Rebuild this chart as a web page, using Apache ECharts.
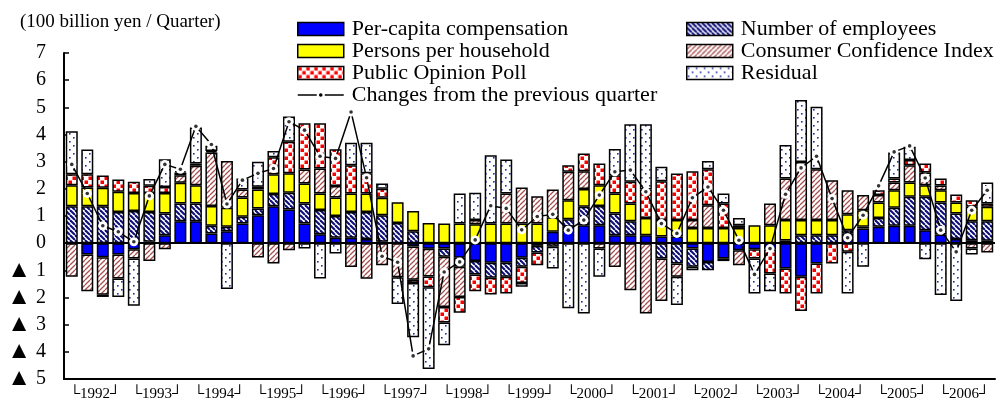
<!DOCTYPE html>
<html><head><meta charset="utf-8">
<script src="https://cdn.jsdelivr.net/npm/echarts@6/dist/echarts.min.js"></script>
<style>html,body{margin:0;padding:0;background:#fff}#c{width:999px;height:403px}</style>
</head><body><div id="c"></div>
<script>
// ---- Data (100 billion yen / quarter), 1992Q1 .. 2006Q4 ----
const years = ['1992','1993','1994','1995','1996','1997','1998','1999','2000','2001','2002','2003','2004','2005','2006'];
const quarters = ['Q1','Q2','Q3','Q4'];
const categories = [];
years.forEach(y => quarters.forEach(q => categories.push(y + q)));

const perCapita = [0,-0.42,-0.52,-0.42,-0.22,0.05,0.29,0.81,0.81,0.36,0.44,0.72,
  1.03,1.36,1.24,0.72,0.33,0.2,0.2,0.15,0.05,0,-0.12,-0.21,
  -0.2,-0.54,-0.66,-0.72,-0.72,-0.54,-0.1,0.42,0.6,0.66,0.66,0.29,
  0.29,0.29,0.25,0.25,-0.2,-0.69,-0.56,-0.26,-0.22,-0.22,-0.93,-1.24,
  -0.75,0,0.35,0.54,0.6,0.64,0.64,0.48,0.32,0.15,0.11,0.09];
const employees = [1.36,1.36,1.36,1.15,1.18,1.1,0.8,0.65,0.65,0.28,0.16,0.25,
  0.25,0.45,0.62,0.74,0.89,0.8,0.95,1.0,0.98,0.74,0.44,0,
  -0.3,-0.33,-0.49,-0.55,-0.52,-0.33,-0.24,-0.13,0.28,0.68,0.71,0.8,
  0.52,0,-0.56,-0.75,-0.67,-0.31,-0.1,0,0,0,0.1,0.29,
  0.29,0.29,0.13,0.06,0.33,0.66,1.07,1.23,1.18,0.94,0.7,0.72];
const household = [0.77,0.69,0.68,0.74,0.67,0.7,0.76,0.76,0.67,0.73,0.7,0.71,
  0.7,0.73,0.71,0.74,0.61,0.68,0.68,0.68,0.64,0.77,0.74,0.74,
  0.72,0.72,0.7,0.72,0.72,0.72,0.72,0.53,0.7,0.65,0.76,0.74,
  0.65,0.64,0.6,0.6,0.56,0.56,0.56,0.56,0.66,0.66,0.75,0.56,
  0.56,0.56,0.58,0.61,0.57,0.65,0.52,0.42,0.45,0.41,0.53,0.53];
const confidence = [-1.24,-1.35,-1.38,-0.88,-0.34,-0.66,-0.22,0.28,0.72,1.97,1.72,0.3,
  -0.53,-0.75,-0.26,0.51,0.92,0.42,-0.88,-1.31,-0.81,-1.25,-1.23,-1.02,
  -1.85,-1.11,0.15,0,1.11,1.33,1.01,1.03,1.05,0.66,-0.2,-0.88,
  -1.73,-2.59,-1.57,-0.49,0.29,0.84,0,-0.55,0,0.8,1.53,2.14,
  1.87,1.47,0.89,0.56,0.27,0.28,0.64,0.47,0.17,0,-0.2,-0.34];
const opinionPoll = [0.41,0.49,0.45,0.45,0.41,0.26,0.22,0.1,0.08,0.05,0,0,
  0.1,0.62,1.16,1.7,1.66,1.36,1.04,0.74,0.33,0,-0.12,-0.39,
  -0.57,-0.58,-0.62,-0.62,-0.61,-0.6,-0.47,0,0.24,0.65,0.8,0.67,
  0.8,1.05,1.43,1.71,1.8,1.32,0.9,0.1,-0.34,-0.9,-0.92,-1.26,
  -1.1,-0.75,-0.32,0,0.18,0.15,0.19,0.33,0.26,0.29,0.24,0.12];
const residual = [1.58,0.91,-0.08,-0.68,-1.74,0.25,1.02,0.05,1.33,0.2,-1.69,0.4,
  0.92,0.23,0.93,-0.2,-1.3,-0.38,0.83,1.13,0.2,-0.99,-1.99,-3.01,
  -0.84,1.11,1.01,2.52,1.25,-0.13,0,-0.8,-2.4,-2.59,-1.04,0.97,
  2.12,2.4,0.53,-1.04,-0.13,0.3,0.37,0.27,-1.29,-0.65,1.23,2.28,
  2.3,0,-1.53,-0.87,0,0.96,0.49,-0.59,-1.91,-2.13,-0.22,0.77];
const change = [2.9,1.83,0.64,0.42,0.05,1.74,2.9,2.72,4.3,3.63,1.44,2.32,
  2.57,2.75,4.47,4.16,3.2,3.12,4.83,2.41,-0.48,-0.7,-4.15,-3.89,
  -1.06,-0.69,0.12,1.38,1.28,0.49,0.98,1.06,0.48,0.85,1.77,2.63,
  2.69,1.89,0.72,0.36,1.67,2.07,1.21,0.11,-1.15,-0.2,1.8,2.77,
  3.2,1.64,0.2,1.03,2.11,3.36,3.58,2.4,0.48,-0.32,1.21,1.95];
const yTicks = {min: -5, max: 7, step: 1};

// ---- Patterns ----
function stripeTile(color, dir, s, lw) {
  const c = document.createElement('canvas'); c.width = s; c.height = s;
  const g = c.getContext('2d'); g.fillStyle = '#fff'; g.fillRect(0, 0, s, s);
  g.strokeStyle = color; g.lineWidth = lw;
  for (let k = -1; k <= 1; k++) {
    g.beginPath();
    if (dir === 'back') { g.moveTo(k * s, 0); g.lineTo(k * s + s, s); }
    else { g.moveTo(k * s, s); g.lineTo(k * s + s, 0); }
    g.stroke();
  }
  return c;
}
function dotTile(color, s, d, pts) {
  const c = document.createElement('canvas'); c.width = s; c.height = s;
  const g = c.getContext('2d'); g.fillStyle = '#fff'; g.fillRect(0, 0, s, s);
  g.fillStyle = color;
  pts.forEach(p => g.fillRect(p[0], p[1], d, d));
  return c;
}
const pat = img => ({image: img, repeat: 'repeat'});
const navyPat = pat(stripeTile('#10107a', 'back', 5, 2.1));
const brownPat = pat(stripeTile('#a85050', 'fwd', 5, 1.3));
const redPat = pat(dotTile('#ff0000', 8, 3.5, [[0.5, 0.5], [4.5, 4.5]]));
const resPat = pat(dotTile('#2030a0', 8, 1.6, [[1, 1], [5, 5]]));

const FONT = "'Liberation Serif','Times New Roman',serif";
const nz = arr => arr.map(v => (v === 0 ? '-' : v));
const border = {borderColor: '#000', borderWidth: 1.5};

function barSeries(name, data, color, extra) {
  return Object.assign({
    name, type: 'bar', stack: 'total', data: nz(data), barWidth: 12,
    itemStyle: Object.assign({color}, border), z: 2
  }, extra || {});
}

const lineIcon = 'path://M0 0h0.05v0.05h-0.05Z M0 12.95h0.05v0.05h-0.05Z M0 5.75H19V7.25H0Z M27 5.75H46V7.25H27Z M21.2 6.5a1.8 1.8 0 1 0 3.6 0a1.8 1.8 0 1 0 -3.6 0Z';

const legendBase = {
  orient: 'vertical', top: 18, itemWidth: 46, itemHeight: 13, itemGap: 0, padding: 0,
  icon: 'rect', selectedMode: false,
  textStyle: {fontSize: 22, fontFamily: FONT, color: '#000', lineHeight: 20.5, padding: [0, 0, 0, 3]},
  itemStyle: {borderColor: '#000', borderWidth: 1.5}
};

const chart = echarts.init(document.getElementById('c'), null, {renderer: 'canvas'});
chart.setOption({
  animation: false,
  backgroundColor: '#fff',
  title: {text: '(100 billion yen / Quarter)', left: 20, top: 13, padding: 0,
    textStyle: {fontSize: 19, fontWeight: 'normal', fontFamily: FONT, color: '#000'}},
  legend: [
    Object.assign({}, legendBase, {left: 297, data: [
      'Per-capita compensation', 'Persons per household', 'Public Opinion Poll',
      {name: 'Changes from the previous quarter', icon: lineIcon, itemStyle: {color: '#000', borderWidth: 0}}
    ]}),
    Object.assign({}, legendBase, {left: 686, data: ['Number of employees', 'Consumer Confidence Index', 'Residual']})
  ],
  grid: {left: 64, right: 4, top: 53, bottom: 24, containLabel: false},
  xAxis: [
    {type: 'category', data: categories, boundaryGap: true,
      axisLine: {onZero: false, lineStyle: {color: '#000', width: 2}},
      axisTick: {inside: true, length: 5, lineStyle: {color: '#000', width: 1.5}},
      axisLabel: {show: false}, splitLine: {show: false}},
    {type: 'category', data: years, position: 'bottom', boundaryGap: true,
      axisLine: {show: false, onZero: false}, axisTick: {show: false},
      axisLabel: {margin: 8, fontSize: 15, fontFamily: FONT, color: '#000', interval: 0,
        formatter: y => '\u2514' + y + '\u2518'}}
  ],
  yAxis: {type: 'value', min: yTicks.min, max: yTicks.max, interval: yTicks.step,
    axisLine: {show: true, lineStyle: {color: '#000', width: 2}},
    axisTick: {show: true, inside: true, length: 5, lineStyle: {color: '#000', width: 1.5}},
    splitLine: {show: false},
    axisLabel: {margin: 18, fontSize: 20, fontFamily: FONT, color: '#000',
      formatter: v => (v < 0 ? '{tri|\u25B2} ' + (-v) : String(v)),
      rich: {tri: {fontSize: 24, fontFamily: FONT, color: '#000'}}}},
  series: [
    barSeries('Per-capita compensation', perCapita, '#0000ff'),
    barSeries('Number of employees', employees, navyPat),
    barSeries('Persons per household', household, '#ffff00'),
    barSeries('Consumer Confidence Index', confidence, brownPat),
    barSeries('Public Opinion Poll', opinionPoll, redPat),
    barSeries('Residual', residual, resPat, {
      markLine: {silent: true, symbol: 'none', label: {show: false},
        lineStyle: {color: '#000', width: 2, type: 'solid'}, data: [{yAxis: 0}]}
    }),
    {name: 'Changes from the previous quarter', type: 'line', data: change, z: 5,
      symbol: 'circle', symbolSize: 9, showSymbol: true,
      lineStyle: {color: '#000', width: 1.5},
      itemStyle: {color: '#fff', borderWidth: 0}},
    {name: 'changeDots', type: 'scatter', data: change, z: 6, symbolSize: 3.6, silent: true,
      itemStyle: {color: '#000'}}
  ]
});
</script>
</body></html>
